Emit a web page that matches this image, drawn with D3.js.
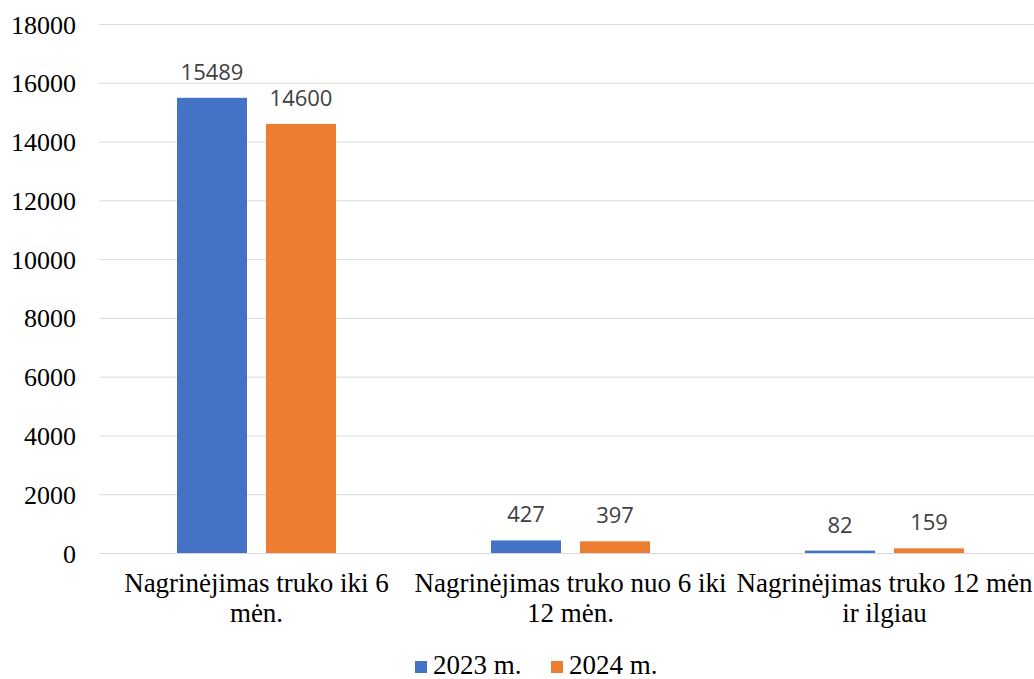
<!DOCTYPE html>
<html><head><meta charset="utf-8">
<script src="https://cdn.jsdelivr.net/npm/d3@7"></script>
<style>body{margin:0;background:#fff} .serif{font-family:"Liberation Serif","Times New Roman",Times,serif} .sans{font-family:"Open Sans","Liberation Sans",sans-serif}</style>
</head><body><svg id="c" width="1034" height="679"></svg>
<script>
const categories = ["Nagrinėjimas truko iki 6 mėn.", "Nagrinėjimas truko nuo 6 iki 12 mėn.", "Nagrinėjimas truko 12 mėn ir ilgiau"];
const categoryLines = [["Nagrinėjimas truko iki 6", "mėn."], ["Nagrinėjimas truko nuo 6 iki", "12 mėn."], ["Nagrinėjimas truko 12 mėn", "ir ilgiau"]];
const seriesNames = ["2023 m.", "2024 m."];
const values2023 = [15489, 427, 82];
const values2024 = [14600, 397, 159];
const yTicks = [0, 2000, 4000, 6000, 8000, 10000, 12000, 14000, 16000, 18000];
const colors = ["#4472c4", "#ed7d31"];

const svg = d3.select("#c");
const y = d3.scaleLinear().domain([0, 18000]).range([553, 24]);
const x0 = d3.scaleBand().domain(categories).range([99.5, 1041.5]).paddingInner(0).paddingOuter(0);
const x1 = d3.scaleBand().domain(seriesNames).range([0, x0.bandwidth()]).paddingInner(19/89).paddingOuter(((x0.bandwidth()-159)/2)/89);

// gridlines
svg.append("g").selectAll("line").data(yTicks).join("line")
  .attr("x1", 99).attr("x2", 1034).attr("y1", d => y(d)+0.5).attr("y2", d => y(d)+0.5)
  .attr("stroke", "#d9d9d9").attr("stroke-width", 1);

// y axis labels
const yAxis = d3.axisLeft(y).tickValues(yTicks).tickSize(0).tickPadding(0).tickFormat(d3.format("d"));
const ya = svg.append("g").attr("transform", "translate(76,0)").call(yAxis).attr("font-family", null).attr("font-size", null);
ya.select(".domain").remove();
ya.selectAll("text").attr("class", "serif").style("font-size", "26px").attr("fill", "#000").attr("dy", "0.35em");

const series = [values2023, values2024];
series.forEach((vals, si) => {
  const g = svg.append("g");
  g.selectAll("rect").data(categories).join("rect")
    .attr("x", (c) => x0(c) + x1(seriesNames[si]))
    .attr("width", x1.bandwidth())
    .attr("y", (c, i) => y(vals[i]))
    .attr("height", (c, i) => y(0) - y(vals[i]))
    .attr("fill", colors[si]);
  g.selectAll("text").data(categories).join("text")
    .attr("x", (c) => x0(c) + x1(seriesNames[si]) + x1.bandwidth()/2)
    .attr("y", (c, i) => y(vals[i]) - 18)
    .attr("text-anchor", "middle")
    .attr("class", "sans").style("font-size", "22px").attr("fill", "#404040")
    .text((c, i) => vals[i]);
});

// category labels
const xa = svg.append("g");
categories.forEach((c, ci) => {
  const t = xa.append("text").attr("text-anchor", "middle")
    .attr("class", "serif").style("font-size", "27px").attr("fill", "#000");
  const cx = x0(c) + x0.bandwidth()/2;
  categoryLines[ci].forEach((l, i) => t.append("tspan").attr("x", cx).attr("y", 592 + i*30).text(l));
});

// legend
const lg = svg.append("g");
const legX = [415, 551];
seriesNames.forEach((n, i) => {
  lg.append("rect").attr("x", legX[i]).attr("y", 661).attr("width", 12).attr("height", 12).attr("fill", colors[i]);
  lg.append("text").attr("x", legX[i] + 18).attr("y", 674)
    .attr("class", "serif").style("font-size", "27px").attr("fill", "#000").text(n);
});
</script></body></html>
